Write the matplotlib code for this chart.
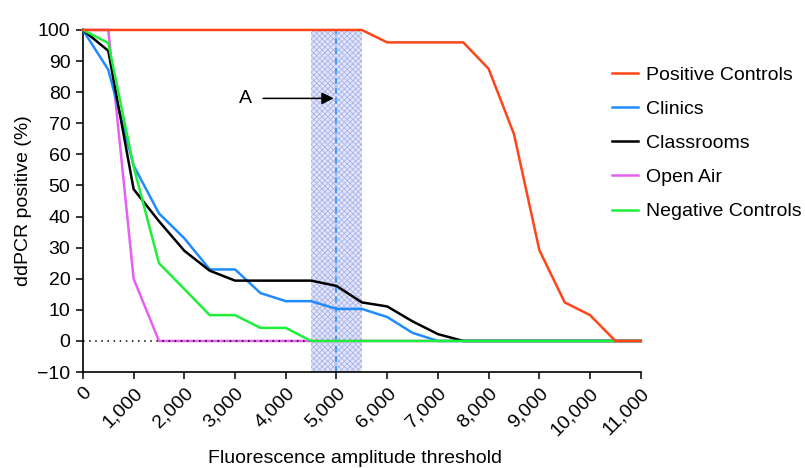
import matplotlib
matplotlib.use("Agg")
import matplotlib.pyplot as plt
import numpy as np

plt.rcParams['font.family'] = ['Liberation Sans', 'DejaVu Sans']
plt.rcParams['hatch.linewidth'] = 0.6

# thresholds (fluorescence amplitude)
thresholds = np.arange(0, 11001, 500)

positive_controls = [100, 100, 100, 100, 100, 100, 100, 100, 100, 100, 100, 100,
                     96, 96, 96, 96, 87.5, 66.5, 29.2, 12.4, 8.3, 0, 0]
clinics = [100, 87.2, 56.4, 41, 33, 23, 23, 15.4, 12.8, 12.8, 10.3, 10.3,
           7.7, 2.6, 0, 0, 0, 0, 0, 0, 0, 0, 0]
classrooms = [100, 93.3, 48.8, 38.5, 29, 22.6, 19.4, 19.4, 19.4, 19.4, 17.7, 12.4,
              11.1, 6.3, 2.2, 0, 0, 0, 0, 0, 0, 0, 0]
open_air = [100, 100, 20, 0, 0, 0, 0, 0, 0, 0, 0, 0,
            0, 0, 0, 0, 0, 0, 0, 0, 0, 0, 0]
negative_controls = [100, 95.8, 56, 25, 16.7, 8.3, 8.3, 4.2, 4.2, 0, 0, 0,
                     0, 0, 0, 0, 0, 0, 0, 0, 0, 0, 0]

names = ["Positive Controls", "Clinics", "Classrooms", "Open Air", "Negative Controls"]
values = [positive_controls, clinics, classrooms, open_air, negative_controls]
colors = ["#ff4517", "#1e8cff", "#000000", "#e660f2", "#1eef3a"]
# stacking order seen in the figure (higher is drawn on top)
zorders = [6, 4, 5, 2, 5.5]

xticks = np.arange(0, 11001, 1000)
yticks = np.arange(-10, 101, 10)
window = (4500, 5500)
cutoff = 5000

fig = plt.figure(figsize=(8.05, 4.68), dpi=100)
ax = fig.add_axes([0.103, 0.205, 0.693, 0.731])

# highlighted threshold window
ax.axvspan(*window, facecolor="#e3e6f8", edgecolor="#aab3ec", hatch="xxxxxx",
           linewidth=0, zorder=0)
ax.axvline(cutoff, color="#1e8cff", linestyle=(0, (4, 2.5)), linewidth=1.1, zorder=1)
ax.plot([0, 11000], [0, 0], color="black", linestyle=(0, (1, 3)), linewidth=1.1, zorder=3)

lines = []
for name, vals, col, z in zip(names, values, colors, zorders):
    ln, = ax.plot(thresholds, vals, color=col, linewidth=1.8, label=name,
                  clip_on=False, zorder=z)
    lines.append(ln)

ax.annotate("", xy=(cutoff, 78), xytext=(3500, 78),
            arrowprops=dict(arrowstyle="-|>", color="black", lw=1.1,
                            mutation_scale=18))
ax.text(3200, 78, "A", fontsize=14, ha="center", va="center")

ax.set_xlim(0, 11000)
ax.set_ylim(-10, 100)
ax.set_xticks(xticks)
ax.set_xticklabels([f"{v:,}" for v in xticks], rotation=45, ha="right",
                   rotation_mode="anchor", fontsize=14)
ax.set_yticks(yticks)
ax.set_yticklabels([f"{v}" if v >= 0 else f"\u2212{-v}" for v in yticks], fontsize=14)
ax.tick_params(direction="out", length=5, width=1.1, pad=4)
ax.spines["top"].set_visible(False)
ax.spines["right"].set_visible(False)
ax.spines["left"].set_linewidth(1.2)
ax.spines["bottom"].set_linewidth(1.2)

ax.set_xlabel("Fluorescence amplitude threshold", fontsize=14)
ax.xaxis.set_label_coords(0.487, -0.228, transform=ax.transAxes)
ax.xaxis.label.set_va("top")
ax.set_ylabel("ddPCR positive (%)", fontsize=14, labelpad=4)

fig.legend(lines, names, loc="upper left",
           bbox_to_anchor=(0.739, 0.896), frameon=False, fontsize=14,
           handlelength=1.3, handletextpad=0.45, labelspacing=0.85)

fig.savefig("out.png", dpi=100)
